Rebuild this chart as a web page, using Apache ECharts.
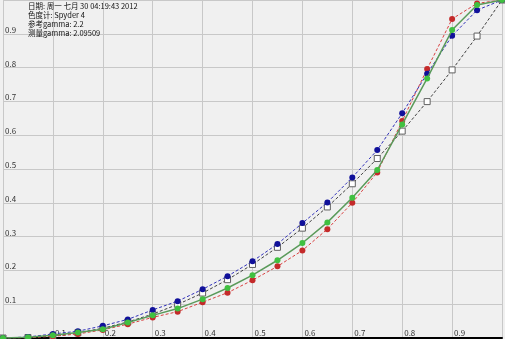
<!DOCTYPE html>
<html><head><meta charset="utf-8">
<script src="https://cdn.jsdelivr.net/npm/echarts@6/dist/echarts.min.js"></script>
<style>html,body{margin:0;padding:0;background:#f0f0f0}#c{width:505px;height:339px}</style>
</head><body><div id="c"></div>
<script>
const xValues = [0,0.05,0.1,0.15,0.2,0.25,0.3,0.35,0.4,0.45,0.5,0.55,0.6,0.65,0.7,0.75,0.8,0.85,0.9,0.95,1.0];
const refGamma = [0,0.0014,0.0063,0.0154,0.029,0.0474,0.0707,0.0993,0.133,0.1726,0.2176,0.2683,0.325,0.3877,0.4563,0.531,0.6121,0.6994,0.7932,0.8933,1.0];
const redVals = [0,0.001,0.005,0.012,0.024,0.041,0.061,0.078,0.106,0.134,0.171,0.212,0.259,0.322,0.400,0.490,0.642,0.796,0.944,0.990,1.0];
const blueVals = [0,0.003,0.012,0.020,0.036,0.055,0.083,0.109,0.144,0.183,0.227,0.278,0.340,0.401,0.475,0.556,0.665,0.782,0.894,0.970,1.0];
const greenVals = [0,0.002,0.008,0.016,0.026,0.046,0.067,0.087,0.115,0.148,0.186,0.230,0.281,0.342,0.415,0.497,0.632,0.768,0.911,0.985,1.0];
const infoLines = ['日期: 周一 七月 30 04:19:43 2012','色度计: Spyder 4','参考gamma: 2.2','测量gamma: 2.09509'];
const tickLabels = ['0.1','0.2','0.3','0.4','0.5','0.6','0.7','0.8','0.9'];

const pair = v => xValues.map((x,i)=>[x,v[i]]);
const fmt = v => { const s = (Math.round(v*10)/10).toFixed(1); return tickLabels.includes(s) ? s : ''; };
const font = '"Noto Sans CJK SC", "DejaVu Sans", sans-serif';

const chart = echarts.init(document.getElementById('c'), null, {renderer:'canvas'});
chart.setOption({
  backgroundColor:'#f0f0f0',
  animation:false,
  grid:{left:0,right:0,top:0,bottom:1,containLabel:false},
  title:{
    text: infoLines.join('\n'),
    left:28, top:2, padding:0,
    textStyle:{fontFamily:font,fontSize:7.5,fontWeight:'normal',color:'#111',lineHeight:9}
  },
  xAxis:{type:'value',min:0,max:1,interval:0.1,
    axisLine:{show:true,lineStyle:{color:'#000',width:2}},
    axisTick:{show:false},
    splitLine:{show:true,lineStyle:{color:'#c8c8c8',width:1}},
    axisLabel:{inside:true,margin:1,align:'left',verticalAlign:'bottom',padding:[0,0,0,2],
      fontFamily:font,fontSize:8,color:'#333',formatter:fmt}},
  yAxis:{type:'value',min:0,max:1,interval:0.1,
    axisLine:{show:false},axisTick:{show:false},
    splitLine:{show:true,lineStyle:{color:'#c8c8c8',width:1}},
    axisLabel:{inside:true,margin:0,align:'left',verticalAlign:'bottom',padding:[0,0,0,2],
      fontFamily:font,fontSize:8,color:'#333',formatter:fmt}},
  series:[
    {type:'line',data:pair(refGamma),symbol:'rect',symbolSize:6,
      lineStyle:{color:'#404040',width:1,type:[3,2]},
      itemStyle:{color:'#ffffff',borderColor:'#606060',borderWidth:1},z:2},
    {type:'line',data:pair(redVals),symbol:'circle',symbolSize:6,
      lineStyle:{color:'#d84040',width:1,type:[3,2]},
      itemStyle:{color:'#c42a2a',borderWidth:0},z:3},
    {type:'line',data:pair(blueVals),symbol:'circle',symbolSize:6,
      lineStyle:{color:'#3030b8',width:1,type:[3,2]},
      itemStyle:{color:'#10109a',borderWidth:0},z:4},
    {type:'line',data:pair(greenVals),symbol:'circle',symbolSize:6,
      lineStyle:{color:'#5a9a5a',width:1.5},
      itemStyle:{color:'#40c040',borderWidth:0},z:5}
  ]
});
</script></body></html>
